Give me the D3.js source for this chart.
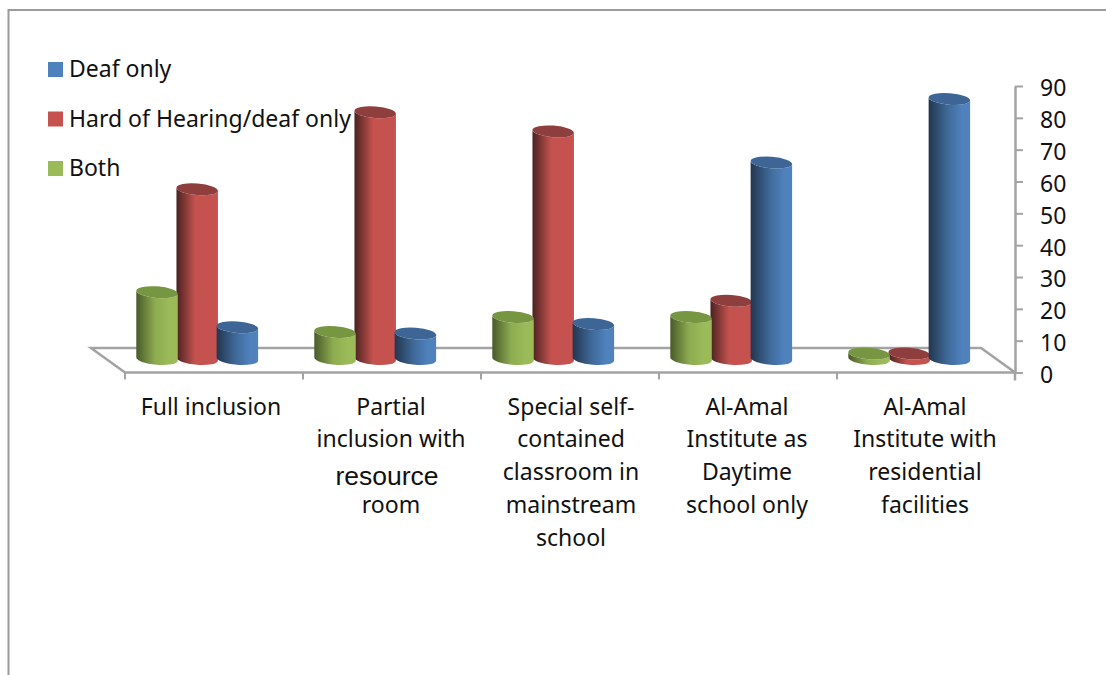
<!DOCTYPE html>
<html>
<head>
<meta charset="utf-8">
<script src="https://cdn.jsdelivr.net/npm/d3@7"></script>
<style>
html,body{margin:0;padding:0;background:#fff}
svg{display:block}
text{font-family:"Noto Sans",sans-serif;fill:#111}
</style>
</head>
<body>
<svg id="chart" width="1106" height="675"></svg>
<script>
// Placement types by hearing status, one value per category
const categories = ["Full inclusion","Partial inclusion","Special self-contained","Al-Amal daytime","Al-Amal residential"];
const categoryLines = [
  ["Full inclusion"],
  ["Partial","inclusion with","resource","room"],
  ["Special self-","contained","classroom in","mainstream","school"],
  ["Al-Amal","Institute as","Daytime","school only"],
  ["Al-Amal","Institute with","residential","facilities"]
];
const seriesNames = ["Deaf only","Hard of Hearing/deaf only","Both"];
const deafOnly = [10, 8, 11, 61.7, 81.7];
const hardOfHearing = [53.3, 77.5, 71.5, 18.3, 1.7];
const both = [21, 8.5, 13.2, 13.2, 1.7];
const yTicks = [0,10,20,30,40,50,60,70,80,90];

const svg = d3.select("#chart");
const GRID = "#a3a3a3";

// Scales for the 3-D plot box
const x = d3.scaleBand().domain(categories).range([125,1015]);
const y = d3.scaleLinear().domain([0,90]).range([372.5,86]);
const depth = {dx:-34, dy:-24.5};     // back edge of the floor relative to its front edge
const barShift = {dx:-16.8, dy:-13.5};  // bars stand half way into the floor
const seriesOrder = ["Both","Hard of Hearing/deaf only","Deaf only"];
const inner = d3.scaleBand().domain(seriesOrder).range([0,120.5]);
const valuesFor = {"Deaf only":deafOnly,"Hard of Hearing/deaf only":hardOfHearing,"Both":both};
const palette = {
  "Deaf only":{base:"#4f81bd",dark:"#22364f",mid:"#3f6897",top:"#3d6696"},
  "Hard of Hearing/deaf only":{base:"#c5524f",dark:"#4a2221",mid:"#c5524f",top:"#8e3e3c"},
  "Both":{base:"#9bbb59",dark:"#495a2a",mid:"#8dab50",top:"#779642"}
};

// Cylinder side shading
const defs = svg.append("defs");
seriesOrder.forEach((name,i)=>{
  const c = palette[name];
  const g = defs.append("linearGradient").attr("id","cyl"+i).attr("x1",0).attr("x2",1).attr("y1",0).attr("y2",0);
  g.append("stop").attr("offset","0%").attr("stop-color",c.dark);
  g.append("stop").attr("offset","45%").attr("stop-color",c.mid);
  g.append("stop").attr("offset","80%").attr("stop-color",c.base);
  g.append("stop").attr("offset","100%").attr("stop-color",c.base);
});

// Outer frame: only the top and left edges show
svg.append("path").attr("d","M8.5,675V10H1106").attr("fill","none").attr("stroke","#9a9a9a").attr("stroke-width",2);

// Floor of the plot box
const [fx0,fx1] = x.range(), fy = y(0);
svg.append("path")
  .attr("d",`M${fx0},${fy}L${fx1},${fy}L${fx1+depth.dx},${fy+depth.dy}L${fx0+depth.dx},${fy+depth.dy}Z`)
  .attr("fill","#fff").attr("stroke",GRID).attr("stroke-width",2.5).attr("stroke-linejoin","miter");

// Category ticks under the floor
const tickXs = categories.map(c=>x(c)).concat(fx1);
svg.append("g").selectAll("line").data(tickXs).join("line")
  .attr("x1",d=>d).attr("x2",d=>d).attr("y1",fy).attr("y2",fy+7)
  .attr("stroke",GRID).attr("stroke-width",2);

// Value axis on the right
const axis = svg.append("g").attr("transform",`translate(${fx1},0)`)
  .call(d3.axisRight(y).tickValues(yTicks).tickSize(8).tickPadding(17).tickSizeOuter(0));
axis.select(".domain").attr("stroke",GRID).attr("stroke-width",2.5);
axis.selectAll(".tick line").attr("stroke",GRID).attr("stroke-width",2);
axis.selectAll(".tick text").attr("font-size",23).attr("dy","0.43em").attr("font-family",'"Noto Sans",sans-serif').attr("fill","#111");
svg.append("line").attr("x1",fx1).attr("x2",fx1).attr("y1",fy).attr("y2",fy+8).attr("stroke",GRID).attr("stroke-width",2.5);

// Cylinders
const TILT = 4.5, RY = 5.8;
function cylinderParts(cx, yTop, yBase, rx){
  const a = TILT*Math.PI/180, ddx = rx*Math.cos(a), ddy = rx*Math.sin(a);
  const arc = `A${rx},${RY} ${TILT} 0`;
  return {
    side:`M${cx-ddx},${yTop-ddy}L${cx-ddx},${yBase-ddy}${arc} 0 ${cx+ddx},${yBase+ddy}L${cx+ddx},${yTop+ddy}${arc} 1 ${cx-ddx},${yTop-ddy}Z`,
    top:`M${cx-ddx},${yTop-ddy}${arc} 1 ${cx+ddx},${yTop+ddy}${arc} 1 ${cx-ddx},${yTop-ddy}Z`
  };
}
const drawOrder = ["Hard of Hearing/deaf only","Both","Deaf only"];
const bars = svg.append("g");
categories.forEach((cat,ci)=>{
  drawOrder.forEach(name=>{
    const v = valuesFor[name][ci];
    const rx = 20.8;
    const cx = x(cat)+x.bandwidth()/2+barShift.dx-inner.range()[1]/2+inner(name)+inner.bandwidth()/2;
    const p = cylinderParts(cx, y(v)+barShift.dy, y(0)+barShift.dy, rx);
    const g = bars.append("g");
    g.append("path").attr("d",p.side).attr("fill",`url(#cyl${seriesOrder.indexOf(name)})`);
    g.append("path").attr("d",p.top).attr("fill",palette[name].top);
  });
});

// Category labels, one text element per wrapped line
const LINE = 32.8, FIRST = 414.5;
const labelCx = [211, 391, 571, 747, 925];
categoryLines.forEach((lines,ci)=>{
  lines.forEach((t,li)=>{
    const special = t==="resource";
    svg.append("text").text(t)
      .attr("x",special?387:labelCx[ci])
      .attr("y",FIRST+li*LINE+(special?5:0))
      .attr("text-anchor","middle")
      .attr("font-size",special?26.5:23)
      .style("font-family",special?'"Liberation Sans",sans-serif':null);
  });
});

// Legend
const legendY = d3.scalePoint().domain(seriesNames).range([69.5,168.5]);
const legend = svg.append("g").selectAll("g").data(seriesNames).join("g")
  .attr("transform",d=>`translate(48,${legendY(d)})`);
legend.append("rect").attr("y",-7.5).attr("width",15).attr("height",15).attr("fill",d=>palette[d].base);
legend.append("text").text(d=>d).attr("x",21).attr("y",7.5).attr("font-size",23);
</script>
</body>
</html>
